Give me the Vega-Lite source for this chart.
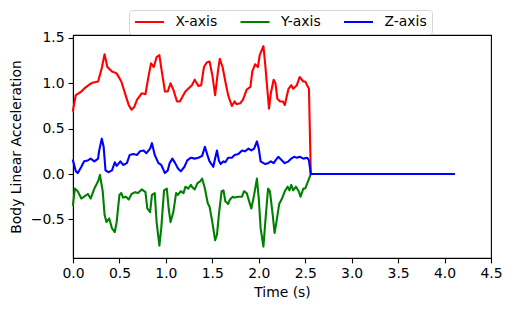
{
  "$schema": "https://vega.github.io/schema/vega-lite/v6.json",
  "width": 418,
  "height": 223,
  "autosize": {"type": "none"},
  "padding": {"left": 73, "top": 35, "right": 20, "bottom": 53},
  "background": "white",
  "config": {
    "font": "DejaVu Sans",
    "view": {"stroke": "black", "strokeWidth": 1.1},
    "axis": {
      "domainColor": "black", "domainWidth": 1.1,
      "tickColor": "black", "tickWidth": 1.1, "tickSize": 4.9,
      "labelFont": "DejaVu Sans", "labelFontSize": 13.9, "labelColor": "black", "labelPadding": 4,
      "titleFont": "DejaVu Sans", "titleFontSize": 13.9, "titleFontWeight": "normal", "titleColor": "black",
      "grid": false, "labelFlush": false, "labelOverlap": false
    },
    "legend": {
      "labelFont": "DejaVu Sans", "labelFontSize": 13.9, "labelColor": "black"
    }
  },
  "datasets": {
    "acc": [
      {"t":0.00,"v":0.70,"s":"X-axis"},{"t":0.03,"v":0.87,"s":"X-axis"},{"t":0.06,"v":0.89,"s":"X-axis"},{"t":0.09,"v":0.91,"s":"X-axis"},{"t":0.13,"v":0.95,"s":"X-axis"},{"t":0.18,"v":0.99,"s":"X-axis"},{"t":0.22,"v":1.01,"s":"X-axis"},{"t":0.27,"v":1.02,"s":"X-axis"},{"t":0.31,"v":1.17,"s":"X-axis"},{"t":0.34,"v":1.32,"s":"X-axis"},{"t":0.37,"v":1.18,"s":"X-axis"},{"t":0.42,"v":1.13,"s":"X-axis"},{"t":0.47,"v":1.11,"s":"X-axis"},{"t":0.52,"v":1.02,"s":"X-axis"},{"t":0.56,"v":0.89,"s":"X-axis"},{"t":0.60,"v":0.76,"s":"X-axis"},{"t":0.63,"v":0.71,"s":"X-axis"},{"t":0.66,"v":0.74,"s":"X-axis"},{"t":0.69,"v":0.82,"s":"X-axis"},{"t":0.74,"v":0.89,"s":"X-axis"},{"t":0.78,"v":0.88,"s":"X-axis"},{"t":0.81,"v":1.06,"s":"X-axis"},{"t":0.84,"v":1.22,"s":"X-axis"},{"t":0.87,"v":1.18,"s":"X-axis"},{"t":0.90,"v":1.29,"s":"X-axis"},{"t":0.93,"v":1.31,"s":"X-axis"},{"t":0.95,"v":1.17,"s":"X-axis"},{"t":0.99,"v":0.91,"s":"X-axis"},{"t":1.02,"v":0.91,"s":"X-axis"},{"t":1.05,"v":1.00,"s":"X-axis"},{"t":1.08,"v":0.93,"s":"X-axis"},{"t":1.12,"v":0.80,"s":"X-axis"},{"t":1.15,"v":0.80,"s":"X-axis"},{"t":1.21,"v":0.91,"s":"X-axis"},{"t":1.26,"v":0.96,"s":"X-axis"},{"t":1.28,"v":0.98,"s":"X-axis"},{"t":1.31,"v":1.04,"s":"X-axis"},{"t":1.35,"v":0.97,"s":"X-axis"},{"t":1.38,"v":0.98,"s":"X-axis"},{"t":1.41,"v":1.18,"s":"X-axis"},{"t":1.44,"v":1.23,"s":"X-axis"},{"t":1.47,"v":1.24,"s":"X-axis"},{"t":1.50,"v":1.09,"s":"X-axis"},{"t":1.53,"v":0.87,"s":"X-axis"},{"t":1.56,"v":1.13,"s":"X-axis"},{"t":1.58,"v":1.27,"s":"X-axis"},{"t":1.61,"v":1.18,"s":"X-axis"},{"t":1.64,"v":1.02,"s":"X-axis"},{"t":1.67,"v":0.87,"s":"X-axis"},{"t":1.71,"v":0.75,"s":"X-axis"},{"t":1.74,"v":0.80,"s":"X-axis"},{"t":1.76,"v":0.77,"s":"X-axis"},{"t":1.80,"v":0.78,"s":"X-axis"},{"t":1.83,"v":0.82,"s":"X-axis"},{"t":1.87,"v":0.93,"s":"X-axis"},{"t":1.91,"v":0.96,"s":"X-axis"},{"t":1.93,"v":1.13,"s":"X-axis"},{"t":1.96,"v":1.21,"s":"X-axis"},{"t":1.99,"v":1.18,"s":"X-axis"},{"t":2.01,"v":1.31,"s":"X-axis"},{"t":2.05,"v":1.41,"s":"X-axis"},{"t":2.07,"v":1.20,"s":"X-axis"},{"t":2.11,"v":0.72,"s":"X-axis"},{"t":2.13,"v":0.89,"s":"X-axis"},{"t":2.16,"v":1.04,"s":"X-axis"},{"t":2.18,"v":1.00,"s":"X-axis"},{"t":2.20,"v":0.83,"s":"X-axis"},{"t":2.23,"v":0.80,"s":"X-axis"},{"t":2.26,"v":0.80,"s":"X-axis"},{"t":2.28,"v":0.76,"s":"X-axis"},{"t":2.32,"v":0.94,"s":"X-axis"},{"t":2.35,"v":0.98,"s":"X-axis"},{"t":2.37,"v":0.94,"s":"X-axis"},{"t":2.41,"v":0.98,"s":"X-axis"},{"t":2.44,"v":1.07,"s":"X-axis"},{"t":2.48,"v":1.02,"s":"X-axis"},{"t":2.50,"v":1.02,"s":"X-axis"},{"t":2.53,"v":0.96,"s":"X-axis"},{"t":2.54,"v":0.94,"s":"X-axis"},{"t":2.56,"v":0.00,"s":"X-axis"},{"t":4.10,"v":0.00,"s":"X-axis"},

      {"t":0.00,"v":-0.34,"s":"Y-axis"},{"t":0.02,"v":-0.16,"s":"Y-axis"},{"t":0.05,"v":-0.19,"s":"Y-axis"},{"t":0.09,"v":-0.27,"s":"Y-axis"},{"t":0.12,"v":-0.25,"s":"Y-axis"},{"t":0.16,"v":-0.22,"s":"Y-axis"},{"t":0.19,"v":-0.27,"s":"Y-axis"},{"t":0.23,"v":-0.16,"s":"Y-axis"},{"t":0.27,"v":-0.08,"s":"Y-axis"},{"t":0.29,"v":-0.01,"s":"Y-axis"},{"t":0.32,"v":-0.19,"s":"Y-axis"},{"t":0.34,"v":-0.45,"s":"Y-axis"},{"t":0.36,"v":-0.53,"s":"Y-axis"},{"t":0.39,"v":-0.49,"s":"Y-axis"},{"t":0.42,"v":-0.60,"s":"Y-axis"},{"t":0.45,"v":-0.64,"s":"Y-axis"},{"t":0.47,"v":-0.53,"s":"Y-axis"},{"t":0.50,"v":-0.23,"s":"Y-axis"},{"t":0.52,"v":-0.21,"s":"Y-axis"},{"t":0.54,"v":-0.26,"s":"Y-axis"},{"t":0.57,"v":-0.25,"s":"Y-axis"},{"t":0.60,"v":-0.28,"s":"Y-axis"},{"t":0.63,"v":-0.22,"s":"Y-axis"},{"t":0.67,"v":-0.20,"s":"Y-axis"},{"t":0.70,"v":-0.21,"s":"Y-axis"},{"t":0.74,"v":-0.17,"s":"Y-axis"},{"t":0.78,"v":-0.20,"s":"Y-axis"},{"t":0.80,"v":-0.38,"s":"Y-axis"},{"t":0.83,"v":-0.42,"s":"Y-axis"},{"t":0.85,"v":-0.23,"s":"Y-axis"},{"t":0.88,"v":-0.21,"s":"Y-axis"},{"t":0.90,"v":-0.53,"s":"Y-axis"},{"t":0.93,"v":-0.79,"s":"Y-axis"},{"t":0.95,"v":-0.60,"s":"Y-axis"},{"t":0.98,"v":-0.18,"s":"Y-axis"},{"t":1.01,"v":-0.16,"s":"Y-axis"},{"t":1.03,"v":-0.38,"s":"Y-axis"},{"t":1.05,"v":-0.53,"s":"Y-axis"},{"t":1.08,"v":-0.42,"s":"Y-axis"},{"t":1.11,"v":-0.21,"s":"Y-axis"},{"t":1.13,"v":-0.23,"s":"Y-axis"},{"t":1.16,"v":-0.19,"s":"Y-axis"},{"t":1.19,"v":-0.21,"s":"Y-axis"},{"t":1.21,"v":-0.14,"s":"Y-axis"},{"t":1.24,"v":-0.16,"s":"Y-axis"},{"t":1.27,"v":-0.12,"s":"Y-axis"},{"t":1.28,"v":-0.14,"s":"Y-axis"},{"t":1.31,"v":-0.17,"s":"Y-axis"},{"t":1.34,"v":-0.10,"s":"Y-axis"},{"t":1.37,"v":-0.08,"s":"Y-axis"},{"t":1.39,"v":-0.05,"s":"Y-axis"},{"t":1.42,"v":-0.16,"s":"Y-axis"},{"t":1.45,"v":-0.32,"s":"Y-axis"},{"t":1.47,"v":-0.36,"s":"Y-axis"},{"t":1.50,"v":-0.53,"s":"Y-axis"},{"t":1.53,"v":-0.73,"s":"Y-axis"},{"t":1.55,"v":-0.67,"s":"Y-axis"},{"t":1.57,"v":-0.45,"s":"Y-axis"},{"t":1.60,"v":-0.19,"s":"Y-axis"},{"t":1.62,"v":-0.18,"s":"Y-axis"},{"t":1.64,"v":-0.30,"s":"Y-axis"},{"t":1.67,"v":-0.33,"s":"Y-axis"},{"t":1.69,"v":-0.28,"s":"Y-axis"},{"t":1.72,"v":-0.25,"s":"Y-axis"},{"t":1.74,"v":-0.26,"s":"Y-axis"},{"t":1.78,"v":-0.25,"s":"Y-axis"},{"t":1.82,"v":-0.25,"s":"Y-axis"},{"t":1.84,"v":-0.19,"s":"Y-axis"},{"t":1.87,"v":-0.21,"s":"Y-axis"},{"t":1.89,"v":-0.28,"s":"Y-axis"},{"t":1.92,"v":-0.38,"s":"Y-axis"},{"t":1.95,"v":-0.23,"s":"Y-axis"},{"t":1.98,"v":-0.05,"s":"Y-axis"},{"t":2.00,"v":-0.27,"s":"Y-axis"},{"t":2.02,"v":-0.60,"s":"Y-axis"},{"t":2.05,"v":-0.80,"s":"Y-axis"},{"t":2.07,"v":-0.53,"s":"Y-axis"},{"t":2.10,"v":-0.16,"s":"Y-axis"},{"t":2.12,"v":-0.19,"s":"Y-axis"},{"t":2.15,"v":-0.45,"s":"Y-axis"},{"t":2.17,"v":-0.65,"s":"Y-axis"},{"t":2.19,"v":-0.53,"s":"Y-axis"},{"t":2.22,"v":-0.33,"s":"Y-axis"},{"t":2.25,"v":-0.27,"s":"Y-axis"},{"t":2.28,"v":-0.19,"s":"Y-axis"},{"t":2.31,"v":-0.14,"s":"Y-axis"},{"t":2.33,"v":-0.18,"s":"Y-axis"},{"t":2.35,"v":-0.12,"s":"Y-axis"},{"t":2.37,"v":-0.18,"s":"Y-axis"},{"t":2.40,"v":-0.14,"s":"Y-axis"},{"t":2.43,"v":-0.19,"s":"Y-axis"},{"t":2.45,"v":-0.25,"s":"Y-axis"},{"t":2.48,"v":-0.16,"s":"Y-axis"},{"t":2.50,"v":-0.16,"s":"Y-axis"},{"t":2.53,"v":-0.08,"s":"Y-axis"},{"t":2.56,"v":0.00,"s":"Y-axis"},{"t":4.10,"v":0.00,"s":"Y-axis"},

      {"t":0.00,"v":0.15,"s":"Z-axis"},{"t":0.03,"v":0.03,"s":"Z-axis"},{"t":0.05,"v":0.01,"s":"Z-axis"},{"t":0.09,"v":0.08,"s":"Z-axis"},{"t":0.12,"v":0.14,"s":"Z-axis"},{"t":0.16,"v":0.15,"s":"Z-axis"},{"t":0.19,"v":0.17,"s":"Z-axis"},{"t":0.23,"v":0.14,"s":"Z-axis"},{"t":0.27,"v":0.17,"s":"Z-axis"},{"t":0.28,"v":0.25,"s":"Z-axis"},{"t":0.31,"v":0.39,"s":"Z-axis"},{"t":0.33,"v":0.30,"s":"Z-axis"},{"t":0.35,"v":0.04,"s":"Z-axis"},{"t":0.38,"v":0.02,"s":"Z-axis"},{"t":0.42,"v":0.04,"s":"Z-axis"},{"t":0.45,"v":0.13,"s":"Z-axis"},{"t":0.47,"v":0.09,"s":"Z-axis"},{"t":0.51,"v":0.14,"s":"Z-axis"},{"t":0.54,"v":0.10,"s":"Z-axis"},{"t":0.58,"v":0.12,"s":"Z-axis"},{"t":0.61,"v":0.21,"s":"Z-axis"},{"t":0.65,"v":0.22,"s":"Z-axis"},{"t":0.69,"v":0.21,"s":"Z-axis"},{"t":0.72,"v":0.25,"s":"Z-axis"},{"t":0.76,"v":0.26,"s":"Z-axis"},{"t":0.79,"v":0.23,"s":"Z-axis"},{"t":0.83,"v":0.28,"s":"Z-axis"},{"t":0.85,"v":0.34,"s":"Z-axis"},{"t":0.88,"v":0.21,"s":"Z-axis"},{"t":0.92,"v":0.12,"s":"Z-axis"},{"t":0.95,"v":0.10,"s":"Z-axis"},{"t":0.99,"v":0.01,"s":"Z-axis"},{"t":1.02,"v":0.04,"s":"Z-axis"},{"t":1.04,"v":0.12,"s":"Z-axis"},{"t":1.07,"v":0.17,"s":"Z-axis"},{"t":1.10,"v":0.12,"s":"Z-axis"},{"t":1.13,"v":0.06,"s":"Z-axis"},{"t":1.16,"v":0.03,"s":"Z-axis"},{"t":1.20,"v":0.08,"s":"Z-axis"},{"t":1.23,"v":0.15,"s":"Z-axis"},{"t":1.27,"v":0.18,"s":"Z-axis"},{"t":1.31,"v":0.17,"s":"Z-axis"},{"t":1.35,"v":0.18,"s":"Z-axis"},{"t":1.39,"v":0.20,"s":"Z-axis"},{"t":1.42,"v":0.30,"s":"Z-axis"},{"t":1.45,"v":0.20,"s":"Z-axis"},{"t":1.47,"v":0.14,"s":"Z-axis"},{"t":1.51,"v":0.08,"s":"Z-axis"},{"t":1.53,"v":0.17,"s":"Z-axis"},{"t":1.55,"v":0.26,"s":"Z-axis"},{"t":1.57,"v":0.15,"s":"Z-axis"},{"t":1.59,"v":0.11,"s":"Z-axis"},{"t":1.62,"v":0.14,"s":"Z-axis"},{"t":1.64,"v":0.13,"s":"Z-axis"},{"t":1.67,"v":0.18,"s":"Z-axis"},{"t":1.71,"v":0.18,"s":"Z-axis"},{"t":1.74,"v":0.21,"s":"Z-axis"},{"t":1.78,"v":0.22,"s":"Z-axis"},{"t":1.82,"v":0.26,"s":"Z-axis"},{"t":1.85,"v":0.25,"s":"Z-axis"},{"t":1.89,"v":0.28,"s":"Z-axis"},{"t":1.92,"v":0.26,"s":"Z-axis"},{"t":1.95,"v":0.28,"s":"Z-axis"},{"t":1.98,"v":0.36,"s":"Z-axis"},{"t":2.00,"v":0.28,"s":"Z-axis"},{"t":2.02,"v":0.14,"s":"Z-axis"},{"t":2.05,"v":0.12,"s":"Z-axis"},{"t":2.07,"v":0.11,"s":"Z-axis"},{"t":2.10,"v":0.12,"s":"Z-axis"},{"t":2.13,"v":0.14,"s":"Z-axis"},{"t":2.16,"v":0.12,"s":"Z-axis"},{"t":2.18,"v":0.15,"s":"Z-axis"},{"t":2.21,"v":0.19,"s":"Z-axis"},{"t":2.25,"v":0.15,"s":"Z-axis"},{"t":2.28,"v":0.12,"s":"Z-axis"},{"t":2.32,"v":0.14,"s":"Z-axis"},{"t":2.35,"v":0.17,"s":"Z-axis"},{"t":2.38,"v":0.19,"s":"Z-axis"},{"t":2.41,"v":0.18,"s":"Z-axis"},{"t":2.44,"v":0.19,"s":"Z-axis"},{"t":2.48,"v":0.17,"s":"Z-axis"},{"t":2.52,"v":0.18,"s":"Z-axis"},{"t":2.54,"v":0.15,"s":"Z-axis"},{"t":2.56,"v":0.00,"s":"Z-axis"},{"t":4.10,"v":0.00,"s":"Z-axis"}
    ]
  },
  "data": {"name": "acc"},
  "mark": {"type": "line", "strokeWidth": 2.1, "strokeJoin": "round", "strokeCap": "square"},
  "encoding": {
    "x": {
      "field": "t", "type": "quantitative",
      "scale": {"domain": [0, 4.5], "nice": false, "zero": false},
      "axis": {"title": "Time (s)", "values": [0, 0.5, 1, 1.5, 2, 2.5, 3, 3.5, 4, 4.5], "format": ".1f", "titlePadding": 5}
    },
    "y": {
      "field": "v", "type": "quantitative",
      "scale": {"domain": [-0.926, 1.533], "nice": false, "zero": false},
      "axis": {"title": "Body Linear Acceleration", "values": [-0.5, 0, 0.5, 1, 1.5], "format": ".1f", "titlePadding": 7}
    },
    "color": {
      "field": "s", "type": "nominal",
      "scale": {"domain": ["X-axis", "Y-axis", "Z-axis"], "range": ["#ff0000", "#008000", "#0000ff"]},
      "legend": {
        "title": null, "orient": "none", "legendX": 56, "legendY": -25,
        "direction": "horizontal", "columns": 3,
        "symbolType": "stroke", "symbolSize": 841, "symbolStrokeWidth": 2.1,
        "clipHeight": 15, "labelOffset": 10, "columnPadding": 21.5,
        "padding": 4.5, "strokeColor": "#d6d6d6", "fillColor": "white", "cornerRadius": 3
      }
    }
  }
}
